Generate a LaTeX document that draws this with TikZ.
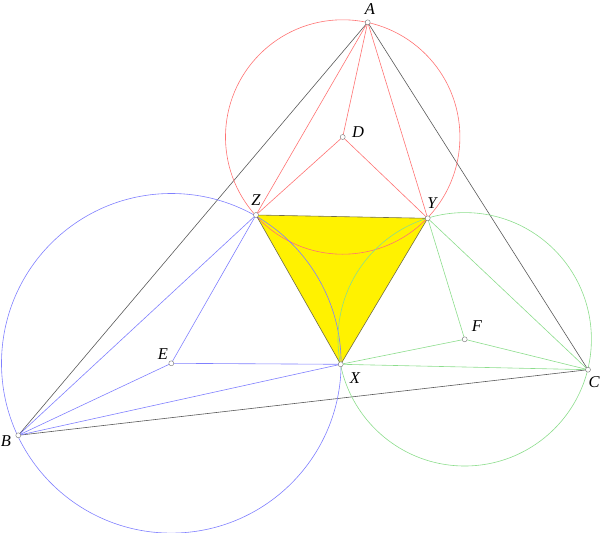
\documentclass[tikz,border=0pt]{standalone}
\usepackage{fontspec}
\newfontfamily\lblfont{Liberation Serif}
\begin{document}
\tikzset{
  pt/.style={circle, draw=black!55, fill=white, line width=0.4pt, inner sep=0pt, minimum size=5pt},
  lbl/.style={font=\lblfont\itshape\fontsize{16.5}{18}\selectfont, inner sep=1pt},
  redln/.style={draw=red!55, line width=0.6pt},
  blueln/.style={draw=blue!50, line width=0.6pt},
  greenln/.style={draw=green!70!black!45, line width=0.6pt},
  blackln/.style={draw=black!65, line width=0.6pt},
}
\begin{tikzpicture}[x=1pt,y=-1pt]
\useasboundingbox (0,0) rectangle (614,533);
\coordinate (A) at (367.7,22.3);
\coordinate (B) at (18.3,435.3);
\coordinate (C) at (588,369.7);
\coordinate (D) at (342.7,137);
\coordinate (E) at (171.3,363.3);
\coordinate (F) at (464.7,339.3);
\coordinate (X) at (340.7,364.3);
\coordinate (Y) at (427.7,218.3);
\coordinate (Z) at (256,215);
% yellow triangle
\fill[yellow] (X) -- (Y) -- (Z) -- cycle;
% big triangle
\draw[blackln] (A) -- (B) -- (C) -- cycle;
% circles
\draw[redln] (D) circle (117.2);
\draw[blueln] (E) circle (169.8);
\draw[greenln] (F) circle (126.7);
% red part
\draw[redln] (A) -- (Z);
\draw[redln] (A) -- (D);
\draw[redln] (A) -- (Y);
\draw[redln] (Z) -- (D) -- (Y);
% blue part
\draw[blueln] (B) -- (Z);
\draw[blueln] (B) -- (E);
\draw[blueln] (B) -- (X);
\draw[blueln] (Z) -- (E) -- (X);
% green part
\draw[greenln] (C) -- (Y);
\draw[greenln] (C) -- (F);
\draw[greenln] (C) -- (X);
\draw[greenln] (Y) -- (F) -- (X);
% inner triangle
\draw[draw=black!55!yellow!80!black, line width=0.6pt] (X) -- (Y) -- (Z) -- cycle;
% points
\node[pt] (a) at (A) {};
\node[pt] (b) at (B) {};
\node[pt] (c) at (C) {};
\node[pt] (d) at (D) {};
\node[pt] (e) at (E) {};
\node[pt] (f) at (F) {};
\node[pt] (x) at (X) {};
\node[pt] (y) at (Y) {};
\node[pt] (z) at (Z) {};
% labels
\node[lbl] at (370,9) {A};
\node[lbl] at (6,441) {B};
\node[lbl] at (594,382) {C};
\node[lbl] at (358,132) {D};
\node[lbl] at (163,354) {E};
\node[lbl] at (477,326) {F};
\node[lbl] at (355,378) {X};
\node[lbl] at (432,203) {Y};
\node[lbl] at (256,200) {Z};
\end{tikzpicture}
\end{document}
